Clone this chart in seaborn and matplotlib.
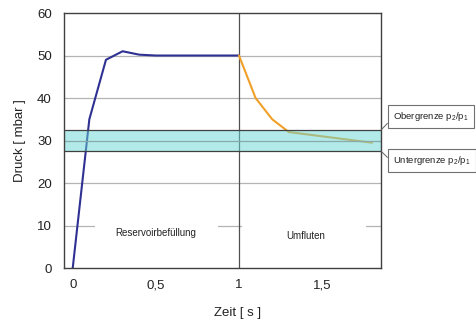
import matplotlib
matplotlib.use("Agg")
import matplotlib.pyplot as plt
import seaborn as sns
import pandas as pd
from matplotlib.patches import Rectangle

# ---- data ----
fill_t = [0.0, 0.1, 0.2, 0.3, 0.4, 0.5, 0.6, 0.7, 0.8, 0.9, 1.0]
fill_p = [0.0, 35.0, 49.0, 51.0, 50.2, 50.0, 50.0, 50.0, 50.0, 50.0, 50.0]
flow_t = [1.0, 1.1, 1.2, 1.3, 1.8]
flow_p = [50.0, 40.0, 35.0, 32.0, 29.5]
band_low, band_high, band_mid = 27.5, 32.5, 30.0
x_ticks = [0, 0.5, 1, 1.5]
x_tick_labels = ["0", "0,5", "1", "1,5"]
y_ticks = [0, 10, 20, 30, 40, 50, 60]
phase_labels = ["Reservoirbefüllung", "Umfluten"]
phase_x = [0.5, 1.4]
phase_y = [8.2, 7.6]
band_labels = [r"Obergrenze p$_{\mathregular{2}}$/p$_{\mathregular{1}}$",
               r"Untergrenze p$_{\mathregular{2}}$/p$_{\mathregular{1}}$"]

sns.set_style("white")
plt.rcParams["font.family"] = ["Liberation Sans", "DejaVu Sans"]
plt.rcParams["mathtext.fontset"] = "custom"
plt.rcParams["mathtext.rm"] = "Liberation Sans"

fig = plt.figure(figsize=(4.77, 3.25), dpi=100)
ax = fig.add_axes([0.135, 0.175, 0.664, 0.785])

df1 = pd.DataFrame({"t": fill_t, "p": fill_p})
df2 = pd.DataFrame({"t": flow_t, "p": flow_p})

# grid lines
for yv in y_ticks[1:-1]:
    ax.axhline(yv, color="#b4b4b4", lw=0.9, zorder=1)

# white gaps behind phase labels
ax.add_patch(Rectangle((0.135, 6.0), 0.74, 6.5, facecolor="white", edgecolor="none", zorder=1.5))
ax.add_patch(Rectangle((1.02, 6.0), 0.745, 6.5, facecolor="white", edgecolor="none", zorder=1.5))

ax.axvline(1.0, color="#505050", lw=0.9, zorder=2)

sns.lineplot(data=df1, x="t", y="p", ax=ax, color="#2e3192", lw=1.5, zorder=3)
sns.lineplot(data=df2, x="t", y="p", ax=ax, color="#f0a028", lw=1.5, zorder=3)

# band (semi-transparent over lines)
ax.axhspan(band_low, band_high, facecolor=(0.40, 0.84, 0.84), alpha=0.5, edgecolor="none", zorder=4)
ax.axhline(band_high, color="#404040", lw=0.9, zorder=5)
ax.axhline(band_low, color="#404040", lw=0.9, zorder=5)
ax.axhline(band_mid, color="#8aa8a8", lw=0.8, zorder=5)

for lab, xv, yv in zip(phase_labels, phase_x, phase_y):
    ax.text(xv, yv, lab, ha="center", va="center", fontsize=7, color="#222222", zorder=6)

ax.set_xlim(-0.05, 1.855)
ax.set_ylim(0, 60)
ax.set_xticks(x_ticks)
ax.set_xticklabels(x_tick_labels)
ax.set_yticks(y_ticks)
ax.tick_params(axis="both", length=0, labelsize=9.5, colors="#222222")
ax.tick_params(axis="y", pad=9)
ax.tick_params(axis="x", pad=8)

for s in ax.spines.values():
    s.set_color("#404040")
    s.set_linewidth(1.0)
    s.set_visible(True)
    s.set_zorder(6)

ax.set_xlabel("Zeit [ s ]", fontsize=9.5, color="#222222", labelpad=11)
ax.xaxis.label.set_x(0.548)
ax.set_ylabel("Druck [ mbar ]", fontsize=9.5, color="#222222", labelpad=8)

# annotation boxes
box_y = [0.642, 0.506]
anchor_y = [band_high, band_low]
relp = [(0, 0.41), (0, 0.32)]
for lab, by, ay, rp in zip(band_labels, box_y, anchor_y, relp):
    ax.annotate(lab, xy=(1.0, ay), xycoords=("axes fraction", "data"),
                xytext=(0.824, by), textcoords="figure fraction",
                ha="left", va="center", fontsize=6.8, color="#222222",
                bbox=dict(boxstyle="square,pad=0.55", fc="white", ec="#707070", lw=0.8),
                arrowprops=dict(arrowstyle="-", color="#606060", lw=0.7,
                                relpos=rp, shrinkA=0, shrinkB=0),
                annotation_clip=False, zorder=7)

fig.savefig("out.png", dpi=100)
